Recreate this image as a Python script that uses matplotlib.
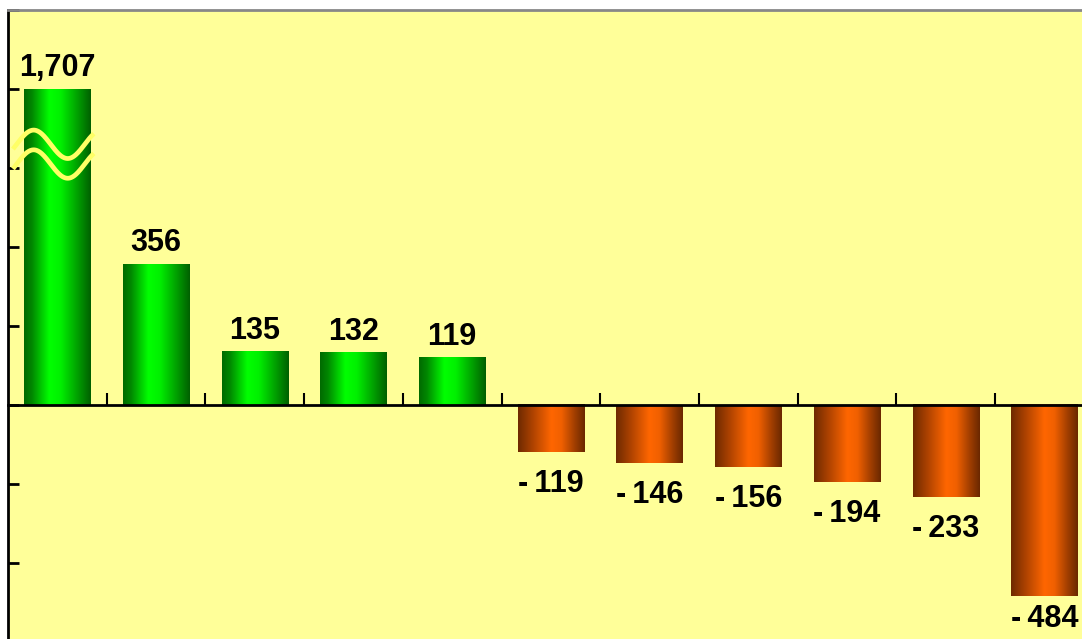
import numpy as np
import matplotlib
matplotlib.use("Agg")
import matplotlib.pyplot as plt
from matplotlib.colors import LinearSegmentedColormap

# ---- data ----
values = [1707, 356, 135, 132, 119, -119, -146, -156, -194, -233, -484]
labels = ["1,707", "356", "135", "132", "119", "-119", "-146", "-156", "-194", "-233", "-484"]
break_at = 800          # displayed height for the broken bar
y_ticks = [-600, -400, -200, 0, 200, 400, 600, 800, 1000]

W, H = 1082, 639
fig = plt.figure(figsize=(W / 100, H / 100), dpi=100)
fig.patch.set_facecolor("white")

# axes geometry (pixels)
left_px, top_px = 8, 10
cat_w_px = 98.7
n = len(values)
ylo, yhi = -600, 1000
px_per_unit = 0.395
ax_w = n * cat_w_px
ax_h = (yhi - ylo) * px_per_unit
ax = fig.add_axes([left_px / W, 1 - (top_px + ax_h) / H, ax_w / W, ax_h / H])
ax.set_facecolor("#ffff99")
ax.set_xlim(-0.5, n - 0.5)
ax.set_ylim(ylo, yhi)

green = LinearSegmentedColormap.from_list(
    "g", [(0, "#006a00"), (0.12, "#008800"), (0.38, "#00ff00"), (0.55, "#00f000"),
          (0.8, "#00a000"), (1, "#006000")])
orange = LinearSegmentedColormap.from_list(
    "o", [(0, "#6e2a00"), (0.2, "#a84000"), (0.5, "#ff6600"), (0.65, "#f06000"),
          (0.85, "#a03e00"), (1, "#6a2800")])
grad = np.linspace(0, 1, 256).reshape(1, -1)

bw = 0.67
for i, v in enumerate(values):
    h = min(v, break_at)
    cm = green if v > 0 else orange
    ax.imshow(grad, cmap=cm, aspect="auto", interpolation="bilinear",
              extent=[i - bw / 2, i + bw / 2, min(0, h), max(0, h)], zorder=2)

ax.set_xlim(-0.5, n - 0.5)
ax.set_ylim(ylo, yhi)

# break symbol on first bar
xs = np.linspace(-0.45, 0.37, 200)
P = 0.69
xpk = -0.24
for c in (660, 610):
    ys = c + 36 * np.cos(2 * np.pi * (xs - xpk) / P)
    ax.plot(xs, ys, color="#ffff66", lw=3.4, zorder=4, solid_capstyle="butt")

# value labels
for i, (v, lab) in enumerate(zip(values, labels)):
    h = min(v, break_at)
    if v > 0:
        off = 13
        ax.annotate(lab, (i, h), xytext=(0, off * 0.72), textcoords="offset points",
                    ha="center", va="baseline", fontsize=22, fontweight="bold",
                    family="Liberation Sans", color="black", zorder=5)
    else:
        txt = lab.replace("-", "-\u2009", 1)
        off_px = 40
        bottom_px_limit = 628
        bar_bottom_px = 406 + (-h) * px_per_unit
        if bar_bottom_px + off_px > bottom_px_limit:
            off_px = bottom_px_limit - bar_bottom_px
        ax.annotate(txt, (i, h), xytext=(0, -off_px * 0.72), textcoords="offset points",
                    ha="center", va="baseline", fontsize=22, fontweight="bold",
                    family=["Liberation Sans", "DejaVu Sans"], color="black", zorder=5)

# axes styling
ax.spines["bottom"].set_position(("data", 0))
ax.spines["bottom"].set_linewidth(2)
ax.spines["bottom"].set_zorder(6)
ax.spines["left"].set_linewidth(2)
ax.spines["top"].set_color("#888888")
ax.spines["top"].set_linewidth(2)
ax.spines["right"].set_visible(False)

ax.set_xticks(np.arange(0.5, n - 0.5, 1.0))
ax.set_xticklabels([])
ax.tick_params(axis="x", direction="in", length=9, width=1.5, color="black")
ax.set_yticks(y_ticks)
ax.set_yticklabels([])
ax.tick_params(axis="y", direction="in", length=8, width=2, color="black")

fig.savefig("out.png", dpi=100, facecolor=fig.get_facecolor())
